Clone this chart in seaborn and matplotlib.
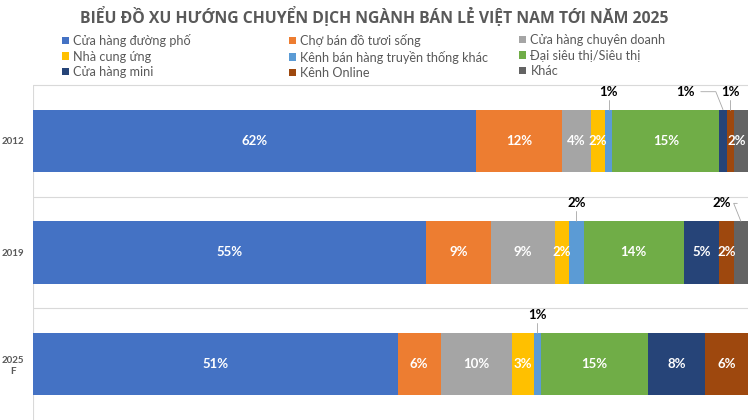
import pandas as pd
import seaborn as sns
import matplotlib.pyplot as plt
from matplotlib.patches import Patch

sns.set_style("white")
plt.rcParams["font.family"] = ["Lato", "DejaVu Sans"]

years = ["2012", "2019", "2025\nF"]
channels = ["Cửa hàng đường phố", "Chợ bán đồ tươi sống", "Cửa hàng chuyên doanh",
            "Nhà cung ứng", "Kênh bán hàng truyền thống khác", "Đại siêu thị/Siêu thị",
            "Cửa hàng mini", "Kênh Online", "Khác"]
cua_hang_duong_pho = [62, 55, 51]
cho_tuoi_song = [12, 9, 6]
chuyen_doanh = [4, 9, 10]
nha_cung_ung = [2, 2, 3]
truyen_thong_khac = [1, 2, 1]
sieu_thi = [15, 14, 15]
cua_hang_mini = [1, 5, 8]
kenh_online = [1, 2, 6]
khac = [2, 2, 0]
colors = ["#4472C4", "#ED7D31", "#A5A5A5", "#FFC000", "#5B9BD5",
          "#70AD47", "#264478", "#9E480E", "#636363"]

# labels drawn above the bar: (channel, year, x shift)
outside = {(4, 0): 0, (6, 0): -5.3, (7, 0): 0, (4, 1): 0, (8, 1): -2.7, (4, 2): 0}

series = [cua_hang_duong_pho, cho_tuoi_song, chuyen_doanh, nha_cung_ung,
          truyen_thong_khac, sieu_thi, cua_hang_mini, kenh_online, khac]
df = pd.DataFrame(dict(zip(channels, series)), index=years)
cum = df.cumsum(axis=1)

fig = plt.figure(figsize=(7.48, 4.2), dpi=100)
ax = fig.add_axes([33 / 748, 0, 715 / 748, 335 / 420])

# stacked bars: draw cumulative totals from the last series back to the first
for i in range(len(channels) - 1, -1, -1):
    sns.barplot(x=cum.iloc[:, i].values, y=years, orient="h", color=colors[i],
                width=0.56, saturation=1, linewidth=0, errorbar=None, ax=ax)

for i, ch in enumerate(channels):
    for j, yr in enumerate(years):
        v = df.loc[yr, ch]
        if v <= 0:
            continue
        c = cum.loc[yr, ch] - v / 2
        lab = f"{v}%"
        if (i, j) in outside:
            dx = outside[(i, j)]
            ax.text(c + dx, j - 0.44, lab, ha="center", va="center",
                    fontsize=9.5, fontweight="bold", color="black")
            if dx == 0:
                ax.plot([c, c], [j - 0.37, j - 0.28], color="#A6A6A6", lw=0.6)
            else:
                ax.plot([c + dx + 2.2, c - 1.0, c], [j - 0.44, j - 0.44, j - 0.28],
                        color="#A6A6A6", lw=0.6)
        else:
            ax.text(min(c, 98.4), j, lab, ha="center", va="center", fontsize=9.5,
                    fontweight="bold", color="white")

ax.set_xlim(0, 100)
ax.set_ylim(2.5, -0.5)
for yb in [-0.5, 0.5, 1.5]:
    ax.axhline(yb, color="#D9D9D9", lw=0.8, zorder=0, clip_on=False)
ax.axvline(0, color="#D9D9D9", lw=0.8, zorder=0)
sns.despine(ax=ax, left=True, bottom=True)
ax.set_xticks([])
ax.set_xlabel("")
ax.set_ylabel("")
ax.set_yticks(range(len(years)))
ax.set_yticklabels(years, fontsize=7, fontweight="bold", color="#595959",
                   ha="center", multialignment="center")
ax.tick_params(axis="y", length=0, pad=14.5)

fig.text(0.501, 1 - 17 / 420, "BIỂU ĐỒ XU HƯỚNG CHUYỂN DỊCH NGÀNH BÁN LẺ VIỆT NAM TỚI NĂM 2025",
         ha="center", va="center", fontsize=11.3, fontweight="bold", color="#595959",
         family=["Open Sans", "DejaVu Sans"])

# legend in three columns, row-major like the original
col_x = [62, 289, 519]
for k in range(3):
    idx = [k, k + 3, k + 6]
    handles = [Patch(facecolor=colors[m], edgecolor="none") for m in idx]
    fig.legend(handles, [channels[m] for m in idx], loc="upper left",
               bbox_to_anchor=(col_x[k] / 748, 1 - 34 / 420), frameon=False,
               fontsize=9.1, labelcolor="#595959", handlelength=0.55,
               handleheight=0.55, handletextpad=0.35, borderpad=0,
               borderaxespad=0, labelspacing=0.28)

fig.savefig("out.png", dpi=100)
